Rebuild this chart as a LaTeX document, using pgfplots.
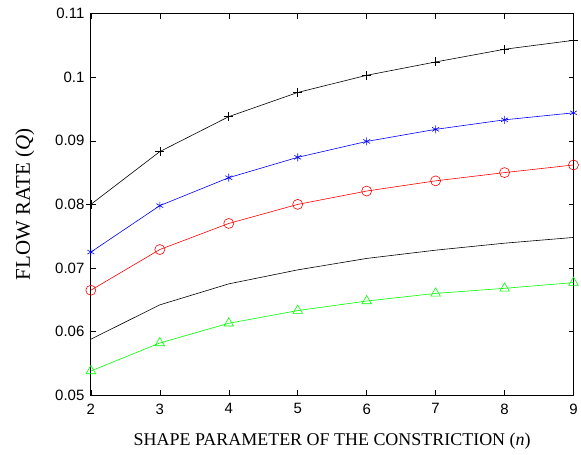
\documentclass[border={12bp 2bp 0bp 5bp}]{standalone}
\usepackage{fontspec}
\setmainfont{Liberation Serif}
\setsansfont{Liberation Sans}
\usepackage{pgfplots}
\pgfplotsset{compat=1.18}
\definecolor{mblue}{RGB}{0,0,255}
\definecolor{mred}{RGB}{255,0,0}
\definecolor{mgreen}{RGB}{0,255,0}
\begin{document}
\begin{tikzpicture}
\begin{axis}[
    scale only axis,
    width=482bp, height=381bp,
    xmin=2, xmax=9, ymin=0.05, ymax=0.11,
    xtick={2,...,9},
    ytick={0.05,0.06,0.07,0.08,0.09,0.1,0.11},
    scaled y ticks=false,
    yticklabel style={/pgf/number format/fixed, /pgf/number format/precision=2, xshift=-3bp},
    xticklabel style={yshift=-5bp},
    tick align=inside,
    tick style={black, line width=0.5pt},
    major tick length=5bp,
    axis line style={line width=0.9pt},
    /pgf/number format/assume math mode=true,
    tick label style={font=\sffamily\fontsize{15}{15}\selectfont},
    label style={font=\rmfamily\fontsize{18}{18}\selectfont},
    xlabel={SHAPE PARAMETER OF THE CONSTRICTION (\textit{n})},
    ylabel={FLOW RATE (\textit{Q})},
    xlabel style={yshift=-12bp},
    ylabel style={yshift=14bp, font=\rmfamily\fontsize{21}{21}\selectfont},
    every axis plot/.append style={line width=0.6pt},
]
\addplot[black, mark=+, mark size=4.5bp, mark options={line width=0.6pt}] coordinates {
(2,0.0800) (3,0.0883) (4,0.0938) (5,0.0976) (6,0.1003) (7,0.1024) (8,0.1044) (9,0.1058)};
\addplot[mblue, mark=asterisk, mark size=4bp, mark options={line width=0.6pt}] coordinates {
(2,0.0725) (3,0.0798) (4,0.0842) (5,0.0874) (6,0.0899) (7,0.0918) (8,0.0933) (9,0.0944)};
\addplot[mred, mark=o, mark size=5bp, mark options={line width=0.6pt}] coordinates {
(2,0.0665) (3,0.0729) (4,0.0770) (5,0.0800) (6,0.0821) (7,0.0837) (8,0.0850) (9,0.0862)};
\addplot[black] coordinates {
(2,0.0588) (3,0.0642) (4,0.0675) (5,0.0697) (6,0.0715) (7,0.0728) (8,0.0739) (9,0.0748)};
\addplot[mgreen, mark=triangle, mark size=5.5bp, mark options={line width=0.6pt}] coordinates {
(2,0.0538) (3,0.0582) (4,0.0613) (5,0.0633) (6,0.0648) (7,0.0660) (8,0.0668) (9,0.0677)};
\end{axis}
\end{tikzpicture}
\end{document}
